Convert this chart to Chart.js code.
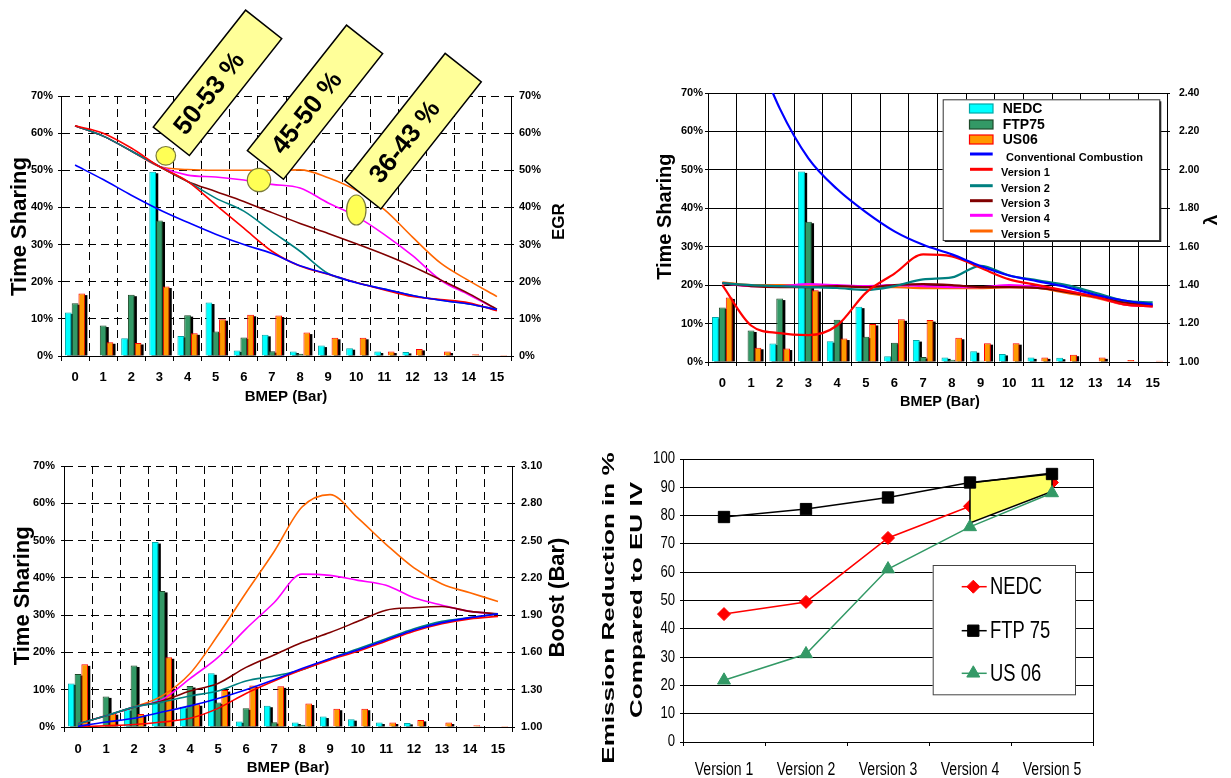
<!DOCTYPE html>
<html>
<head>
<meta charset="utf-8">
<script src="https://cdn.jsdelivr.net/npm/chart.js@4.4.1/dist/chart.umd.min.js"></script>
<style>
  html, body { margin: 0; padding: 0; background: #fff; }
  body { width: 1231px; height: 778px; position: relative; overflow: hidden; }
  canvas { position: absolute; }
</style>
</head>
<body>
<canvas id="egrChart" width="600" height="415" style="left:0;top:0"></canvas>
<canvas id="lambdaChart" width="631" height="420" style="left:600px;top:0"></canvas>
<canvas id="boostChart" width="600" height="358" style="left:0;top:420px"></canvas>
<canvas id="reductionChart" width="631" height="358" style="left:600px;top:420px"></canvas>
<script>
// BMEP-Klassen (x-Achse der drei linken/oberen Diagramme)
const bmep = ['0', '1', '2', '3', '4', '5', '6', '7', '8', '9', '10', '11', '12', '13', '14', '15'];

// Zeitanteile der Fahrzyklen in %
const nedc  = [11.7, 0, 4.8, 49.6, 5.4, 14.4, 1.5, 5.7, 1.2, 2.8, 2.1, 1.2, 1.1, 0, 0, 0];
const ftp75 = [14.2, 8.2, 16.5, 36.5, 11.0, 6.6, 5.0, 1.3, 0.6, 0.3, 0.2, 0.1, 0.1, 0, 0, 0];
const us06  = [16.8, 3.7, 3.5, 18.7, 6.1, 9.9, 11.1, 10.9, 6.3, 4.9, 4.9, 1.2, 1.9, 1.2, 0.5, 0.3];

// AGR-Rate in %
const egrConv = [51.4, 47.5, 43.3, 39.4, 36.0, 32.8, 30.0, 27.6, 24.3, 22.1, 19.7, 18.0, 16.3, 15.0, 14.0, 12.5];
const egrV1   = [62.0, 60.0, 56.0, 51.0, 47.0, 40.7, 34.4, 28.2, 24.2, 22.0, 19.8, 17.8, 16.0, 15.2, 14.3, 12.2];
const egrV2   = [62.0, 59.2, 55.2, 51.0, 47.0, 42.5, 39.0, 33.5, 28.2, 22.2, 19.8, 18.0, 16.3, 15.0, 14.0, 12.5];
const egrV3   = [62.0, 59.2, 55.2, 51.0, 47.0, 44.3, 41.6, 38.6, 35.7, 33.0, 30.2, 27.3, 24.1, 20.5, 16.8, 12.6];
const egrV4   = [62.0, 59.2, 55.2, 51.0, 48.7, 48.2, 47.4, 46.2, 45.2, 41.2, 37.6, 32.7, 27.0, 20.4, 16.5, 12.5];
const egrV5   = [62.0, 59.2, 55.2, 51.0, 50.2, 50.0, 50.0, 50.0, 50.1, 48.0, 44.6, 39.4, 32.0, 25.0, 20.3, 16.0];

// Luftverhaeltnis Lambda
const lamConv = [null, 2.68, 2.32, 2.06, 1.90, 1.78, 1.68, 1.61, 1.56, 1.50, 1.45, 1.42, 1.39, 1.35, 1.32, 1.30];
const lamV1   = [1.40, 1.19, 1.15, 1.14, 1.19, 1.36, 1.46, 1.56, 1.55, 1.49, 1.43, 1.40, 1.37, 1.34, 1.30, 1.29];
const lamV2   = [1.41, 1.40, 1.395, 1.39, 1.385, 1.375, 1.395, 1.43, 1.44, 1.50, 1.45, 1.425, 1.40, 1.36, 1.32, 1.31];
const lamV3   = [1.41, 1.395, 1.39, 1.39, 1.395, 1.39, 1.40, 1.405, 1.40, 1.39, 1.39, 1.385, 1.365, 1.34, 1.31, 1.295];
const lamV4   = [1.41, 1.395, 1.395, 1.405, 1.40, 1.395, 1.40, 1.395, 1.39, 1.39, 1.40, 1.39, 1.37, 1.34, 1.30, 1.29];
const lamV5   = [1.415, 1.40, 1.40, 1.40, 1.395, 1.39, 1.39, 1.385, 1.385, 1.385, 1.39, 1.385, 1.36, 1.335, 1.30, 1.29];

// Ladedruck in bar
const boostConv = [1.005, 1.04, 1.07, 1.12, 1.17, 1.23, 1.30, 1.38, 1.47, 1.55, 1.62, 1.70, 1.78, 1.84, 1.88, 1.91];
const boostV1   = [1.00, 1.01, 1.02, 1.04, 1.07, 1.15, 1.27, 1.37, 1.46, 1.54, 1.61, 1.69, 1.77, 1.83, 1.87, 1.89];
const boostV2   = [1.025, 1.09, 1.16, 1.20, 1.25, 1.29, 1.37, 1.41, 1.46, 1.55, 1.63, 1.71, 1.79, 1.85, 1.88, 1.91];
const boostV3   = [1.025, 1.09, 1.16, 1.21, 1.29, 1.35, 1.48, 1.58, 1.68, 1.76, 1.85, 1.94, 1.96, 1.97, 1.93, 1.91];
const boostV4   = [1.025, 1.09, 1.16, 1.22, 1.39, 1.56, 1.79, 2.00, 2.23, 2.22, 2.18, 2.14, 2.04, 1.98, 1.93, 1.91];
const boostV5   = [1.025, 1.09, 1.16, 1.25, 1.43, 1.74, 2.08, 2.41, 2.77, 2.87, 2.68, 2.47, 2.28, 2.15, 2.08, 2.01];

// Emissionsminderung gegenueber EU IV in %
const versions  = ['Version 1', 'Version 2', 'Version 3', 'Version 4', 'Version 5'];
const redNedc   = [45.2, 49.5, 72.1, 83.3, 91.7];
const redFtp75  = [79.5, 82.3, 86.4, 91.7, 94.7];
const redUs06   = [21.8, 31.1, 61.1, 76.0, 88.0];
const spreadBand = [[3, 91.5], [4, 95.0], [4, 88.5], [3, 77.4]];

const lineNames = ['Conventional Combustion', 'Version 1', 'Version 2', 'Version 3', 'Version 4', 'Version 5'];
const tagTexts = ['50-53 %', '45-50 %', '36-43 %'];

const FONT = "'Liberation Sans', Arial, Helvetica, sans-serif";
Chart.defaults.font.family = FONT;
Chart.defaults.color = '#000';

const lineColors = ['#0000FF', '#FF0000', '#008080', '#800000', '#FF00FF', '#FF6600'];
const barStyles = [
  { label: 'NEDC', bg: '#00FFFF', border: '#00A8A8' },
  { label: 'FTP75', bg: '#339966', border: '#1E4A2A' },
  { label: 'US06', bg: '#FF9900', border: '#FF0000' }
];

function bold(size) { return { family: FONT, size: size, weight: 'bold' }; }

function barSets() {
  return [nedc, ftp75, us06].map((d, i) => ({
    type: 'bar', label: barStyles[i].label, data: d,
    backgroundColor: barStyles[i].bg, borderColor: barStyles[i].border, borderWidth: 1,
    categoryPercentage: 0.72, barPercentage: 1.0, order: 10, yAxisID: 'y'
  }));
}

function lineSets(arrs, width) {
  return arrs.map((d, i) => ({
    type: 'line', label: lineNames[i], data: d, borderColor: lineColors[i], backgroundColor: lineColors[i],
    borderWidth: width, pointRadius: 0, fill: false, cubicInterpolationMode: 'monotone',
    order: 1 + i, yAxisID: 'y1'
  }));
}

function bmepScales(cfg) {
  return {
    x: {
      type: 'category', offset: true,
      grid: { offset: true, color: '#000', lineWidth: 1, tickLength: cfg.xTick, tickColor: '#000' },
      border: { color: '#000', width: 1, dash: cfg.dash },
      ticks: { font: bold(13), padding: cfg.xPad, maxRotation: 0, autoSkip: false },
      afterFit: s => { s.height = cfg.xHeight; }
    },
    y: {
      position: 'left', min: 0, max: 70,
      grid: { color: '#000', lineWidth: 1, tickLength: 3, tickColor: '#000' },
      border: { color: '#000', width: 1, dash: cfg.dash },
      ticks: { stepSize: 10, font: bold(11), padding: cfg.yPad, callback: v => v + '%' },
      afterFit: s => { s.width = cfg.yWidth; }
    },
    y1: {
      position: 'right', min: cfg.rMin, max: cfg.rMax,
      grid: { drawOnChartArea: false, color: '#000', tickLength: 3, tickColor: '#000' },
      border: { color: '#000', width: 1 },
      ticks: { stepSize: cfg.rStep, font: bold(cfg.rFont), padding: cfg.rPad, callback: cfg.rFormat },
      afterFit: s => { s.width = cfg.rWidth; }
    }
  };
}

// Text in Canvas-Koordinaten zeichnen (optional gedreht / gestreckt)
function drawText(ctx, t) {
  ctx.save();
  ctx.translate(t.x, t.y);
  ctx.rotate((t.rot || 0) * Math.PI / 180);
  ctx.scale(t.sx || 1, 1);
  ctx.font = t.font;
  ctx.fillStyle = '#000';
  ctx.textAlign = t.align || 'center';
  ctx.textBaseline = 'middle';
  ctx.fillText(t.text, 0, 0);
  ctx.restore();
}

function titlePlugin(items) {
  return { id: 'axisTitles', afterDraw(chart) { items.forEach(t => drawText(chart.ctx, t)); } };
}

// 3D-Schatten hinter den Balken
const barShadow = {
  id: 'barShadow',
  beforeDatasetsDraw(chart) {
    const ctx = chart.ctx;
    ctx.save();
    ctx.fillStyle = '#000';
    chart.data.datasets.forEach((ds, i) => {
      if (ds.type !== 'bar') return;
      chart.getDatasetMeta(i).data.forEach(bar => {
        const h = bar.base - bar.y;
        if (!(h > 0.8)) return;
        ctx.fillRect(bar.x - bar.width / 2 + 2.2, bar.y + 1.5, bar.width, h - 1.5);
      });
    });
    ctx.restore();
  }
};

// Gelbe Kaesten und Kreise im AGR-Diagramm
const egrTags = {
  id: 'egrTags',
  afterDraw(chart) {
    const ctx = chart.ctx;
    const boxes = [
      { cx: 217.5, cy: 82.8, len: 149 },
      { cx: 315, cy: 102.2, len: 160 },
      { cx: 413, cy: 131.2, len: 162 }
    ];
    const ang = -51.7 * Math.PI / 180;
    boxes.forEach((b, i) => {
      ctx.save();
      ctx.translate(b.cx, b.cy);
      ctx.rotate(ang);
      ctx.fillStyle = '#FFFF99';
      ctx.strokeStyle = '#000';
      ctx.lineWidth = 1.5;
      ctx.fillRect(-b.len / 2, -23, b.len, 46);
      ctx.strokeRect(-b.len / 2, -23, b.len, 46);
      ctx.fillStyle = '#000';
      ctx.font = 'bold 26px ' + FONT;
      ctx.textAlign = 'center';
      ctx.textBaseline = 'middle';
      ctx.fillText(tagTexts[i], -13.5, 1);
      ctx.restore();
    });
    const dots = [
      { x: 165.8, y: 155.8, rx: 9.8, ry: 9.3 },
      { x: 259, y: 180, rx: 11.7, ry: 11.7 },
      { x: 356.3, y: 210, rx: 9.7, ry: 15 }
    ];
    dots.forEach(d => {
      ctx.save();
      ctx.beginPath();
      ctx.ellipse(d.x, d.y, d.rx, d.ry, 0, 0, Math.PI * 2);
      ctx.fillStyle = '#FFFF55';
      ctx.fill();
      ctx.strokeStyle = '#7A7A3A';
      ctx.lineWidth = 1.2;
      ctx.stroke();
      ctx.restore();
    });
  }
};

// Legende im Lambda-Diagramm
const lambdaLegend = {
  id: 'lambdaLegend',
  afterDraw(chart) {
    const ctx = chart.ctx;
    const bx = 342.7, by = 99.3, bw = 216.6, bh = 140.7;
    ctx.save();
    ctx.fillStyle = '#222';
    ctx.fillRect(bx + 2, by + 2, bw, bh);
    ctx.fillStyle = '#fff';
    ctx.fillRect(bx, by, bw, bh);
    ctx.strokeStyle = '#333';
    ctx.lineWidth = 1;
    ctx.strokeRect(bx + 0.5, by + 0.5, bw, bh);
    const ds = chart.data.datasets;
    const swY = [104, 120, 135];
    for (let i = 0; i < 3; i++) {
      ctx.fillStyle = ds[i].backgroundColor;
      ctx.fillRect(369.5, swY[i], 23.5, 9);
      ctx.strokeStyle = ds[i].borderColor;
      ctx.lineWidth = 1.2;
      ctx.strokeRect(369.5, swY[i], 23.5, 9);
      drawText(ctx, { text: ds[i].label, x: 402.7, y: swY[i] + 5.5, font: 'bold 14px ' + FONT, align: 'left' });
    }
    const lnY = [154, 169.3, 185.7, 200.7, 215.3, 231];
    for (let i = 0; i < 6; i++) {
      const d = ds[3 + i];
      ctx.strokeStyle = d.borderColor;
      ctx.lineWidth = 3;
      ctx.beginPath();
      ctx.moveTo(370, lnY[i]);
      ctx.lineTo(392.7, lnY[i]);
      ctx.stroke();
      drawText(ctx, { text: d.label, x: i === 0 ? 406 : 401, y: lnY[i] + 3.5, font: 'bold 11px ' + FONT, align: 'left' });
    }
    ctx.restore();
  }
};

// Gelbes Band zwischen Version 4 und 5, nach NEDC und vor den anderen Linien
const bandPlugin = {
  id: 'band',
  afterDatasetDraw(chart, args) {
    if (args.index !== 0) return;
    const x = chart.scales.x, y = chart.scales.y, ctx = chart.ctx;
    ctx.save();
    ctx.beginPath();
    spreadBand.forEach((p, i) => {
      const px = x.getPixelForValue(p[0]), py = y.getPixelForValue(p[1]);
      if (i === 0) ctx.moveTo(px, py); else ctx.lineTo(px, py);
    });
    ctx.closePath();
    ctx.fillStyle = '#FFFF66';
    ctx.fill();
    ctx.strokeStyle = '#000';
    ctx.lineWidth = 1.5;
    ctx.stroke();
    ctx.restore();
  }
};

// Schmale Achsbeschriftung (wie Arial Narrow) an den Positionen der Skalen
const narrowTicks = {
  id: 'narrowTicks',
  afterDraw(chart) {
    const ctx = chart.ctx, x = chart.scales.x, y = chart.scales.y;
    x.ticks.forEach((t, i) => drawText(ctx, {
      text: x.getLabelForValue(t.value), x: x.getPixelForTick(i), y: x.top + 28, font: '18px ' + FONT, sx: 0.78
    }));
    y.ticks.forEach((t, i) => drawText(ctx, {
      text: String(t.value), x: y.right - 8, y: y.getPixelForTick(i), font: '16px ' + FONT, sx: 0.82, align: 'right'
    }));
  }
};

// Rechter Rahmen + Legende im Emissionsdiagramm
const reductionExtras = {
  id: 'reductionExtras',
  afterDraw(chart) {
    const ctx = chart.ctx, a = chart.chartArea;
    ctx.save();
    ctx.strokeStyle = '#000';
    ctx.lineWidth = 1;
    ctx.beginPath();
    ctx.moveTo(Math.round(a.right) + 0.5, a.top);
    ctx.lineTo(Math.round(a.right) + 0.5, a.bottom + 4);
    ctx.stroke();

    const bx = 332.7, by = 145, bw = 142.3, bh = 129.3;
    ctx.fillStyle = '#fff';
    ctx.fillRect(bx, by, bw, bh);
    ctx.strokeStyle = '#444';
    ctx.strokeRect(bx + 0.5, by + 0.5, bw, bh);
    const ys = [166.7, 210.7, 253.3];
    chart.data.datasets.forEach((d, i) => {
      ctx.strokeStyle = d.borderColor;
      ctx.lineWidth = 1.5;
      ctx.beginPath();
      ctx.moveTo(361.7, ys[i]);
      ctx.lineTo(386.7, ys[i]);
      ctx.stroke();
      ctx.fillStyle = d.backgroundColor;
      ctx.lineWidth = 1;
      Chart.helpers.drawPoint(ctx, { pointStyle: d.pointStyle, radius: d.pointRadius, borderWidth: 1, rotation: 0 }, 373.3, ys[i]);
      drawText(ctx, { text: d.label, x: 390, y: ys[i] + 1, font: '23px ' + FONT, sx: 0.8, align: 'left' });
    });
    ctx.restore();
  }
};

function baseOptions(padTop, padRight) {
  return {
    responsive: false, animation: false, devicePixelRatio: 1,
    layout: { padding: { top: padTop, left: 0, right: padRight || 0, bottom: 0 } },
    plugins: { legend: { display: false }, tooltip: { enabled: false } }
  };
}

// Diagramm 1: Zeitanteile + AGR
const o1 = baseOptions(96);
o1.scales = bmepScales({
  dash: [8, 5], xTick: 5, xPad: 9, xHeight: 59, yPad: 5, yWidth: 61,
  rMin: 0, rMax: 70, rStep: 10, rFont: 11, rPad: 5, rWidth: 89, rFormat: v => v + '%'
});
new Chart(document.getElementById('egrChart'), {
  type: 'bar',
  data: { labels: bmep, datasets: barSets().concat(lineSets([egrConv, egrV1, egrV2, egrV3, egrV4, egrV5], 1.6)) },
  options: o1,
  plugins: [barShadow, egrTags, titlePlugin([
    { text: 'Time Sharing', x: 20, y: 226.5, rot: -90, font: 'bold 22px ' + FONT },
    { text: 'BMEP (Bar)', x: 286, y: 396.5, font: 'bold 15px ' + FONT },
    { text: 'EGR', x: 559, y: 221.7, rot: -90, font: 'bold 17px ' + FONT }
  ])]
});

// Diagramm 2: Zeitanteile + Lambda
const o2 = baseOptions(93);
o2.scales = bmepScales({
  dash: [], xTick: 4, xPad: 9.5, xHeight: 58, yPad: 2, yWidth: 108,
  rMin: 1, rMax: 2.4, rStep: 0.2, rFont: 10.5, rPad: 9, rWidth: 64, rFormat: v => Number(v).toFixed(2)
});
new Chart(document.getElementById('lambdaChart'), {
  type: 'bar',
  data: { labels: bmep, datasets: barSets().concat(lineSets([lamConv, lamV1, lamV2, lamV3, lamV4, lamV5], 2.2)) },
  options: o2,
  plugins: [barShadow, lambdaLegend, titlePlugin([
    { text: 'Time Sharing', x: 65, y: 216.7, rot: -90, font: 'bold 20px ' + FONT },
    { text: 'BMEP (Bar)', x: 340, y: 401.7, font: 'bold 14.5px ' + FONT },
    { text: 'λ', x: 611.7, y: 220, rot: -90, font: 'bold 19px ' + FONT }
  ])]
});

// Diagramm 3: Zeitanteile + Ladedruck
const o3 = baseOptions(46);
o3.scales = bmepScales({
  dash: [8, 5], xTick: 5, xPad: 10, xHeight: 51, yPad: 6, yWidth: 64,
  rMin: 1, rMax: 3.1, rStep: 0.3, rFont: 11, rPad: 6, rWidth: 88, rFormat: v => Number(v).toFixed(2)
});
new Chart(document.getElementById('boostChart'), {
  type: 'bar',
  data: { labels: bmep, datasets: barSets().concat(lineSets([boostConv, boostV1, boostV2, boostV3, boostV4, boostV5], 1.6)) },
  options: o3,
  plugins: [barShadow, titlePlugin([
    { text: 'Time Sharing', x: 22.5, y: 175.8, rot: -90, font: 'bold 22px ' + FONT },
    { text: 'BMEP (Bar)', x: 288, y: 348.3, font: 'bold 15px ' + FONT },
    { text: 'Boost (Bar)', x: 558, y: 177.5, rot: -90, font: 'bold 22px ' + FONT }
  ])]
});

// Diagramm 4: Emissionsminderung
const o4 = baseOptions(39, 138);
o4.scales = {
  x: {
    type: 'category', offset: true,
    grid: { offset: true, drawOnChartArea: false, color: '#000', tickLength: 4, tickColor: '#000' },
    border: { color: '#000', width: 1 },
    ticks: { display: false, autoSkip: false },
    afterFit: s => { s.height = 36; }
  },
  y: {
    min: 0, max: 100,
    grid: { color: '#000', lineWidth: 1, tickLength: 3, tickColor: '#000' },
    border: { color: '#000', width: 1 },
    ticks: { display: false, stepSize: 10 },
    afterFit: s => { s.width = 83; }
  }
};
new Chart(document.getElementById('reductionChart'), {
  type: 'line',
  data: {
    labels: versions,
    datasets: [
      { label: 'NEDC', data: redNedc, borderColor: '#FF0000', backgroundColor: '#FF0000', borderWidth: 1.5,
        pointStyle: 'rectRot', pointRadius: 6.5, pointBorderWidth: 1, order: 3 },
      { label: 'FTP 75', data: redFtp75, borderColor: '#000000', backgroundColor: '#000000', borderWidth: 1.5,
        pointStyle: 'rect', pointRadius: 8, pointBorderWidth: 1, order: 1 },
      { label: 'US 06', data: redUs06, borderColor: '#339966', backgroundColor: '#339966', borderWidth: 1.5,
        pointStyle: 'triangle', pointRadius: 7.5, pointBorderWidth: 1, order: 2 }
    ]
  },
  options: o4,
  plugins: [bandPlugin, narrowTicks, reductionExtras, titlePlugin([
    { text: 'Emission Reduction in %', x: 9, y: 188, rot: -90, sx: 1.58, font: 'bold 16.5px ' + FONT },
    { text: 'Compared to EU IV', x: 37.5, y: 180, rot: -90, sx: 1.58, font: 'bold 16.5px ' + FONT }
  ])]
});
</script>
</body>
</html>
